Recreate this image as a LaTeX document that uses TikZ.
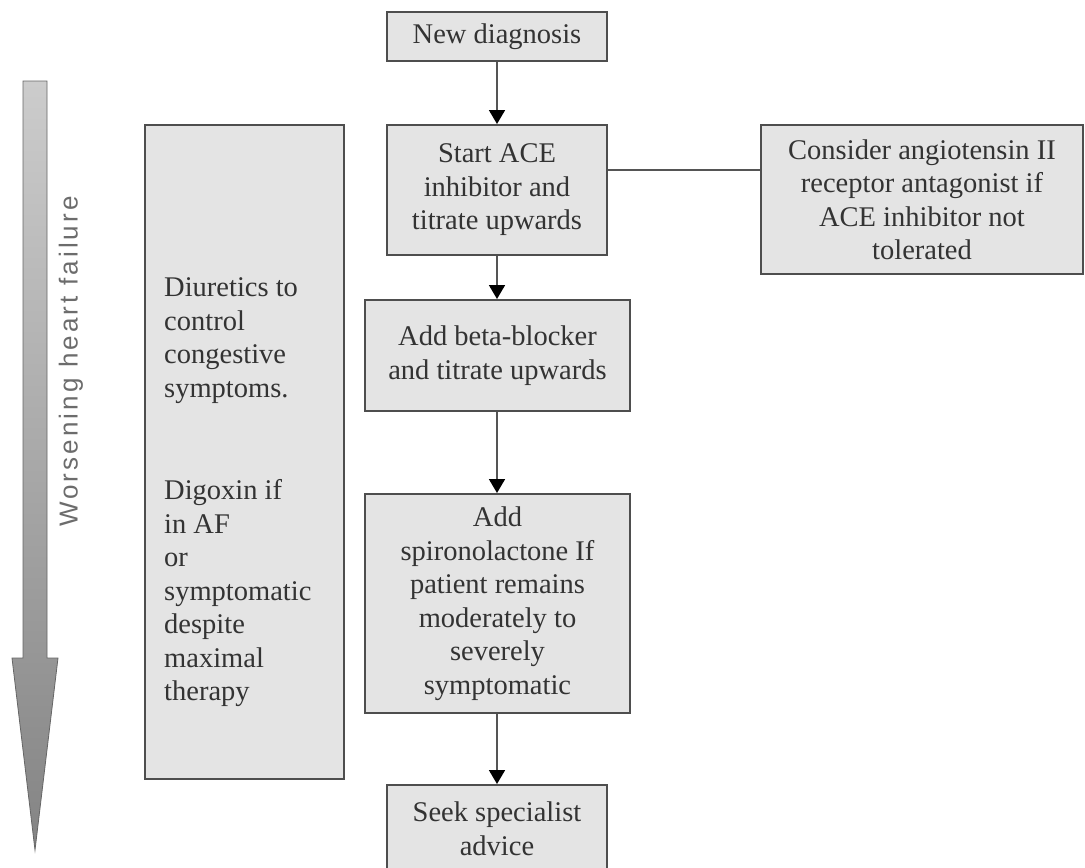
\documentclass[tikz,border=0pt]{standalone}
\usepackage{fontspec}
\setmainfont{Liberation Serif}
\newfontfamily\labfont[LetterSpace=12]{Liberation Sans}
\usetikzlibrary{arrows.meta}
\definecolor{boxfill}{HTML}{E4E4E4}
\definecolor{boxline}{HTML}{4E4E4E}
\definecolor{txt}{HTML}{333333}
\definecolor{conn}{HTML}{555555}
\tikzset{
  flowbox/.style={draw=boxline, fill=boxfill, line width=2pt, align=center,
    text=txt, inner sep=0pt, font=\fontsize{28.5}{33.5}\selectfont},
  flowarrow/.style={draw=conn, line width=1.8pt, -{Triangle[width=16pt,length=14pt,fill=black,color=black]}},
  flowline/.style={draw=conn, line width=1.8pt},
}
\begin{document}
\begin{tikzpicture}[x=1pt,y=-1pt]
\clip (0,0) rectangle (1085,868);
\fill[white] (0,0) rectangle (1085,868);

% left gradient arrow
\shade[top color=gray!40, bottom color=gray!95!white!70!gray, draw=gray!80!black, line width=0.8pt]
  (23,81) -- (47,81) -- (47,658) -- (58,658) -- (35,850) -- (12,658) -- (23,658) -- cycle;
\node[rotate=90, text=gray!85!black, inner sep=0pt] (lab) at (71,361.5)
  {\labfont\fontsize{26}{30}\selectfont Worsening heart failure};

% boxes
\node[flowbox, minimum width=220pt, minimum height=49pt] (nd) at (497,36.5) {New diagnosis};
\node[flowbox, minimum width=220pt, minimum height=130pt] (ace) at (497,190)
  {Start ACE\\inhibitor and\\titrate upwards};
\node[flowbox, minimum width=322pt, minimum height=149pt] (ang) at (922,199.5)
  {Consider angiotensin II\\receptor antagonist if\\ACE inhibitor not\\tolerated};
\node[flowbox, minimum width=265pt, minimum height=111pt] (beta) at (497.5,355.5)
  {Add beta-blocker\\and titrate upwards};
\node[flowbox, minimum width=265pt, minimum height=219pt] (spiro) at (497.5,603.5)
  {Add\\spironolactone If\\patient remains\\moderately to\\severely\\symptomatic};
\node[flowbox, minimum width=220pt, minimum height=87pt] (seek) at (497,828.5)
  {Seek specialist\\advice};
\node[flowbox, minimum width=199pt, minimum height=654pt] (diur) at (244.5,452) {};
\node[anchor=north west, align=left, inner sep=0pt, text=txt,
  font=\fontsize{28.5}{33.5}\selectfont] (diurtxt) at (164,277.5)
  {Diuretics to\\control\\congestive\\symptoms.\\[69pt]Digoxin if\\in AF\\or\\symptomatic\\despite\\maximal\\therapy};

% connectors
\draw[flowarrow] (nd.south) -- (ace.north);
\draw[flowarrow] (ace.south) -- (ace.south |- beta.north);
\draw[flowarrow] (beta.south -| ace.south) -- (spiro.north -| ace.south);
\draw[flowarrow] (spiro.south -| ace.south) -- (seek.north);
\draw[flowline] ([yshift=20pt]ace.east) -- ([yshift=20pt]ace.east -| ang.west);
\end{tikzpicture}
\end{document}
